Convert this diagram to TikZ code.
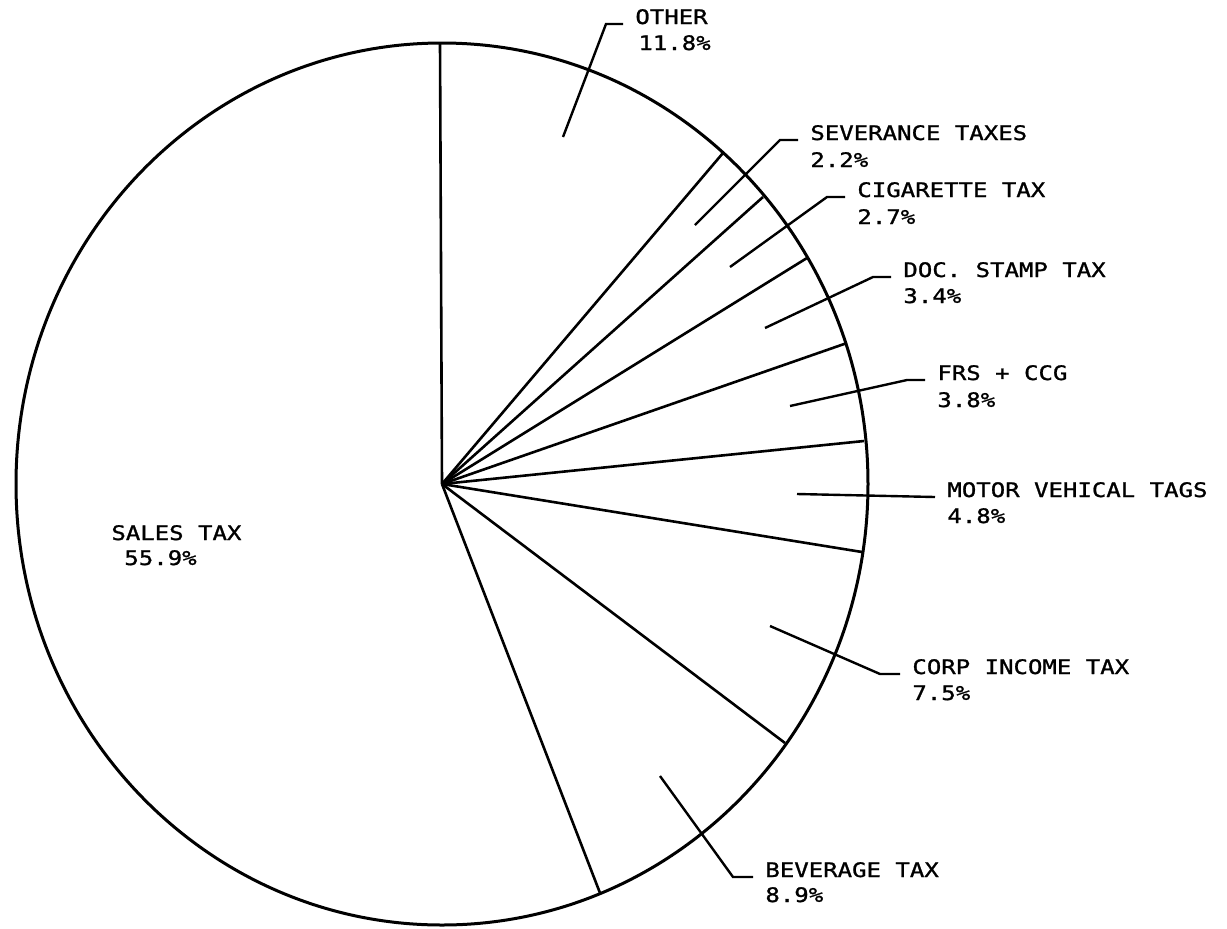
\documentclass[tikz,border=0pt]{standalone}
\usepackage{fontspec}
\newfontfamily\plotfont[FakeStretch=1.2,FakeBold=1.2]{DejaVu Sans Mono}
\begin{document}
\begin{tikzpicture}[x=0.5pt,y=-0.5pt,
        cut/.style={line width=1.3pt},
        lead/.style={line width=1.2pt},
        tag/.style={anchor=base west,inner xsep=6pt,inner ysep=0pt,font=\plotfont\fontsize{10}{12}\selectfont}]
    \useasboundingbox (0,0) rectangle (1227,928);
    \coordinate (c) at (442,484);
    \draw[line width=1.5pt] (c) ellipse [x radius=426, y radius=441];
    % slice edges, clockwise from the top
    \coordinate (b0) at (440,43);
    \coordinate (b1) at (723,153);
    \coordinate (b2) at (763,197);
    \coordinate (b3) at (807,258);
    \coordinate (b4) at (847,343);
    \coordinate (b5) at (864,441);
    \coordinate (b6) at (862,552);
    \coordinate (b7) at (785,743);
    \coordinate (b8) at (600,893);
    \draw[cut] (c) -- (b0);
    \draw[cut] (c) -- (b1);
    \draw[cut] (c) -- (b2);
    \draw[cut] (c) -- (b3);
    \draw[cut] (c) -- (b4);
    \draw[cut] (c) -- (b5);
    \draw[cut] (c) -- (b6);
    \draw[cut] (c) -- (b7);
    \draw[cut] (c) -- (b8);
    % labels
    \node[tag] (other) at (623,24) {OTHER};
    \node[tag] (otherpct) at (626,50) {11.8\%};
    \coordinate (otherin) at (563,137);
    \coordinate (otherknee) at (606,24);
    \draw[lead] (otherin) -- (otherknee) -- (other.base west);
    \node[tag] (sev) at (798,140) {SEVERANCE TAXES};
    \node[tag] (sevpct) at (798,167) {2.2\%};
    \coordinate (sevin) at (695,225);
    \coordinate (sevknee) at (780,140);
    \draw[lead] (sevin) -- (sevknee) -- (sev.base west);
    \node[tag] (cig) at (845,197) {CIGARETTE TAX};
    \node[tag] (cigpct) at (845,224) {2.7\%};
    \coordinate (cigin) at (730,267);
    \coordinate (cigknee) at (827,197);
    \draw[lead] (cigin) -- (cigknee) -- (cig.base west);
    \node[tag] (doc) at (891,277) {DOC. STAMP TAX};
    \node[tag] (docpct) at (891,303) {3.4\%};
    \coordinate (docin) at (765,328);
    \coordinate (docknee) at (873,277);
    \draw[lead] (docin) -- (docknee) -- (doc.base west);
    \node[tag] (frs) at (925,380) {FRS + CCG};
    \node[tag] (frspct) at (925,407) {3.8\%};
    \coordinate (frsin) at (790,406);
    \coordinate (frsknee) at (907,380);
    \draw[lead] (frsin) -- (frsknee) -- (frs.base west);
    \node[tag] (motor) at (935,497) {MOTOR VEHICAL TAGS};
    \node[tag] (motorpct) at (935,523) {4.8\%};
    \coordinate (motorin) at (797,494);
    \draw[lead] (motorin) -- (motor.base west);
    \node[tag] (corp) at (900,674) {CORP INCOME TAX};
    \node[tag] (corppct) at (900,700) {7.5\%};
    \coordinate (corpin) at (770,626);
    \coordinate (corpknee) at (880,674);
    \draw[lead] (corpin) -- (corpknee) -- (corp.base west);
    \node[tag] (bev) at (753,877) {BEVERAGE TAX};
    \node[tag] (bevpct) at (753,902) {8.9\%};
    \coordinate (bevin) at (660,776);
    \coordinate (bevknee) at (733,877);
    \draw[lead] (bevin) -- (bevknee) -- (bev.base west);
    \node[tag] (sales) at (99,540) {SALES TAX};
    \node[tag] (salespct) at (112,565) {55.9\%};
\end{tikzpicture}
\end{document}
